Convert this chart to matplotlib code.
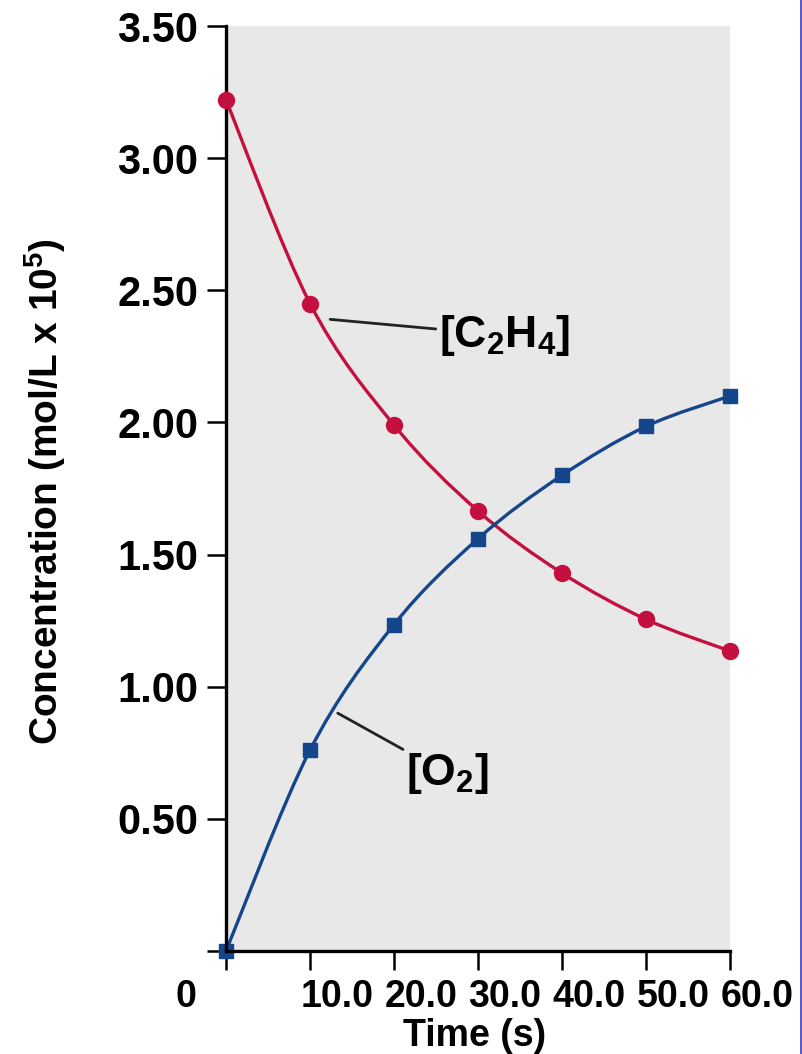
import matplotlib
matplotlib.use("Agg")
import matplotlib.pyplot as plt
from matplotlib.path import Path
from matplotlib.patches import PathPatch
from matplotlib.transforms import ScaledTranslation
from matplotlib.lines import Line2D

# ---- data ----
time_s = [0, 10, 20, 30, 40, 50, 60]
c2h4 = [3.22, 2.45, 1.99, 1.665, 1.43, 1.255, 1.135]
o2 = [0.00, 0.76, 1.235, 1.56, 1.80, 1.985, 2.10]
x_tick_vals = [0, 10, 20, 30, 40, 50, 60]
x_tick_labels = ["0", "10.0", "20.0", "30.0", "40.0", "50.0", "60.0"]
y_tick_vals = [0, 0.5, 1.0, 1.5, 2.0, 2.5, 3.0, 3.5]
y_tick_labels = ["", "0.50", "1.00", "1.50", "2.00", "2.50", "3.00", "3.50"]

RED = "#c4103f"
BLUE = "#15468c"

plt.rcParams['font.family'] = ['Liberation Sans', 'DejaVu Sans']
plt.rcParams['font.weight'] = 'bold'
plt.rcParams['mathtext.fontset'] = 'custom'
plt.rcParams['mathtext.rm'] = 'Liberation Sans:bold'
plt.rcParams['mathtext.bf'] = 'Liberation Sans:bold'
plt.rcParams['mathtext.it'] = 'Liberation Sans:bold'

fig = plt.figure(figsize=(8.02, 10.54), dpi=100)
ax = fig.add_axes([226/802, 1-951/1054, (730-226)/802, (951-26)/1054])
ax.set_facecolor("#e8e8e8")
ax.set_xlim(0, 60)
ax.set_ylim(0, 3.5)


def smooth_path(xs, ys):
    # Catmull-Rom -> cubic Bezier control points, drawn in data space
    verts = [(xs[0], ys[0])]
    codes = [Path.MOVETO]
    n = len(xs)
    for i in range(n - 1):
        x0, y0 = (xs[i-1], ys[i-1]) if i > 0 else (xs[i], ys[i])
        x1, y1 = xs[i], ys[i]
        x2, y2 = xs[i+1], ys[i+1]
        x3, y3 = (xs[i+2], ys[i+2]) if i + 2 < n else (xs[i+1], ys[i+1])
        c1 = (x1 + (x2 - x0) / 6, y1 + (y2 - y0) / 6)
        c2 = (x2 - (x3 - x1) / 6, y2 - (y3 - y1) / 6)
        verts += [c1, c2, (x2, y2)]
        codes += [Path.CURVE4] * 3
    return Path(verts, codes)


ax.add_patch(PathPatch(smooth_path(time_s, c2h4), fill=False, edgecolor=RED,
                       lw=2.4, zorder=3))
ax.add_patch(PathPatch(smooth_path(time_s, o2), fill=False, edgecolor=BLUE,
                       lw=2.4, zorder=3))
ax.plot(time_s, c2h4, linestyle='none', marker='o', ms=11.5, color=RED,
        zorder=5, clip_on=False)
ax.plot(time_s, o2, linestyle='none', marker='s', ms=10.5, color=BLUE,
        zorder=3.5, clip_on=False)

for s in ['top', 'right']:
    ax.spines[s].set_visible(False)
for s in ['left', 'bottom']:
    ax.spines[s].set_linewidth(2.4)
    ax.spines[s].set_color('black')
    ax.spines[s].set_zorder(4)

ax.set_xticks(x_tick_vals)
ax.set_xticklabels(x_tick_labels)
ax.set_yticks(y_tick_vals)
ax.set_yticklabels(y_tick_labels)
ax.tick_params(axis='both', direction='out', length=14, width=1.8,
               colors='black')
ax.tick_params(axis='y', pad=6, labelsize=30)
ax.tick_params(axis='x', pad=6, labelsize=27)
for lbl in ax.get_yticklabels():
    lbl.set_fontweight('bold')
for i, lbl in enumerate(ax.get_xticklabels()):
    lbl.set_fontweight('bold')
    dx = -40 if i == 0 else 27
    lbl.set_transform(lbl.get_transform() + ScaledTranslation(dx/100, 0, fig.dpi_scale_trans))

ax.set_ylabel(r"Concentration (mol/L x 10$^{5}$)", fontsize=28, fontweight='bold',
              va='center')
ax.yaxis.set_label_coords((45-226)/504, (951-492)/925)
ax.set_xlabel("Time (s)", fontsize=27, fontweight='bold', va='center')
ax.xaxis.set_label_coords((475-226)/504, -(1036-951)/925)

# annotations
ax.annotate(r"[C$_2$H$_4$]", xy=(12.4, 2.39), xytext=(25.3, 2.33),
            fontsize=32, fontweight='bold', va='center', ha='left',
            arrowprops=dict(arrowstyle='-', color='#222222', lw=2.0,
                            shrinkA=0, shrinkB=0))
ax.annotate(r"[O$_2$]", xy=(13.3, 0.90), xytext=(21.4, 0.67),
            fontsize=32, fontweight='bold', va='center', ha='left',
            arrowprops=dict(arrowstyle='-', color='#222222', lw=2.0,
                            shrinkA=0, shrinkB=0))

# thin border line at right edge of the image
fig.add_artist(Line2D([0.999, 0.999], [0, 1], color='#3a3ac8', lw=1.2,
                      transform=fig.transFigure))

fig.savefig("out.png", dpi=100)
